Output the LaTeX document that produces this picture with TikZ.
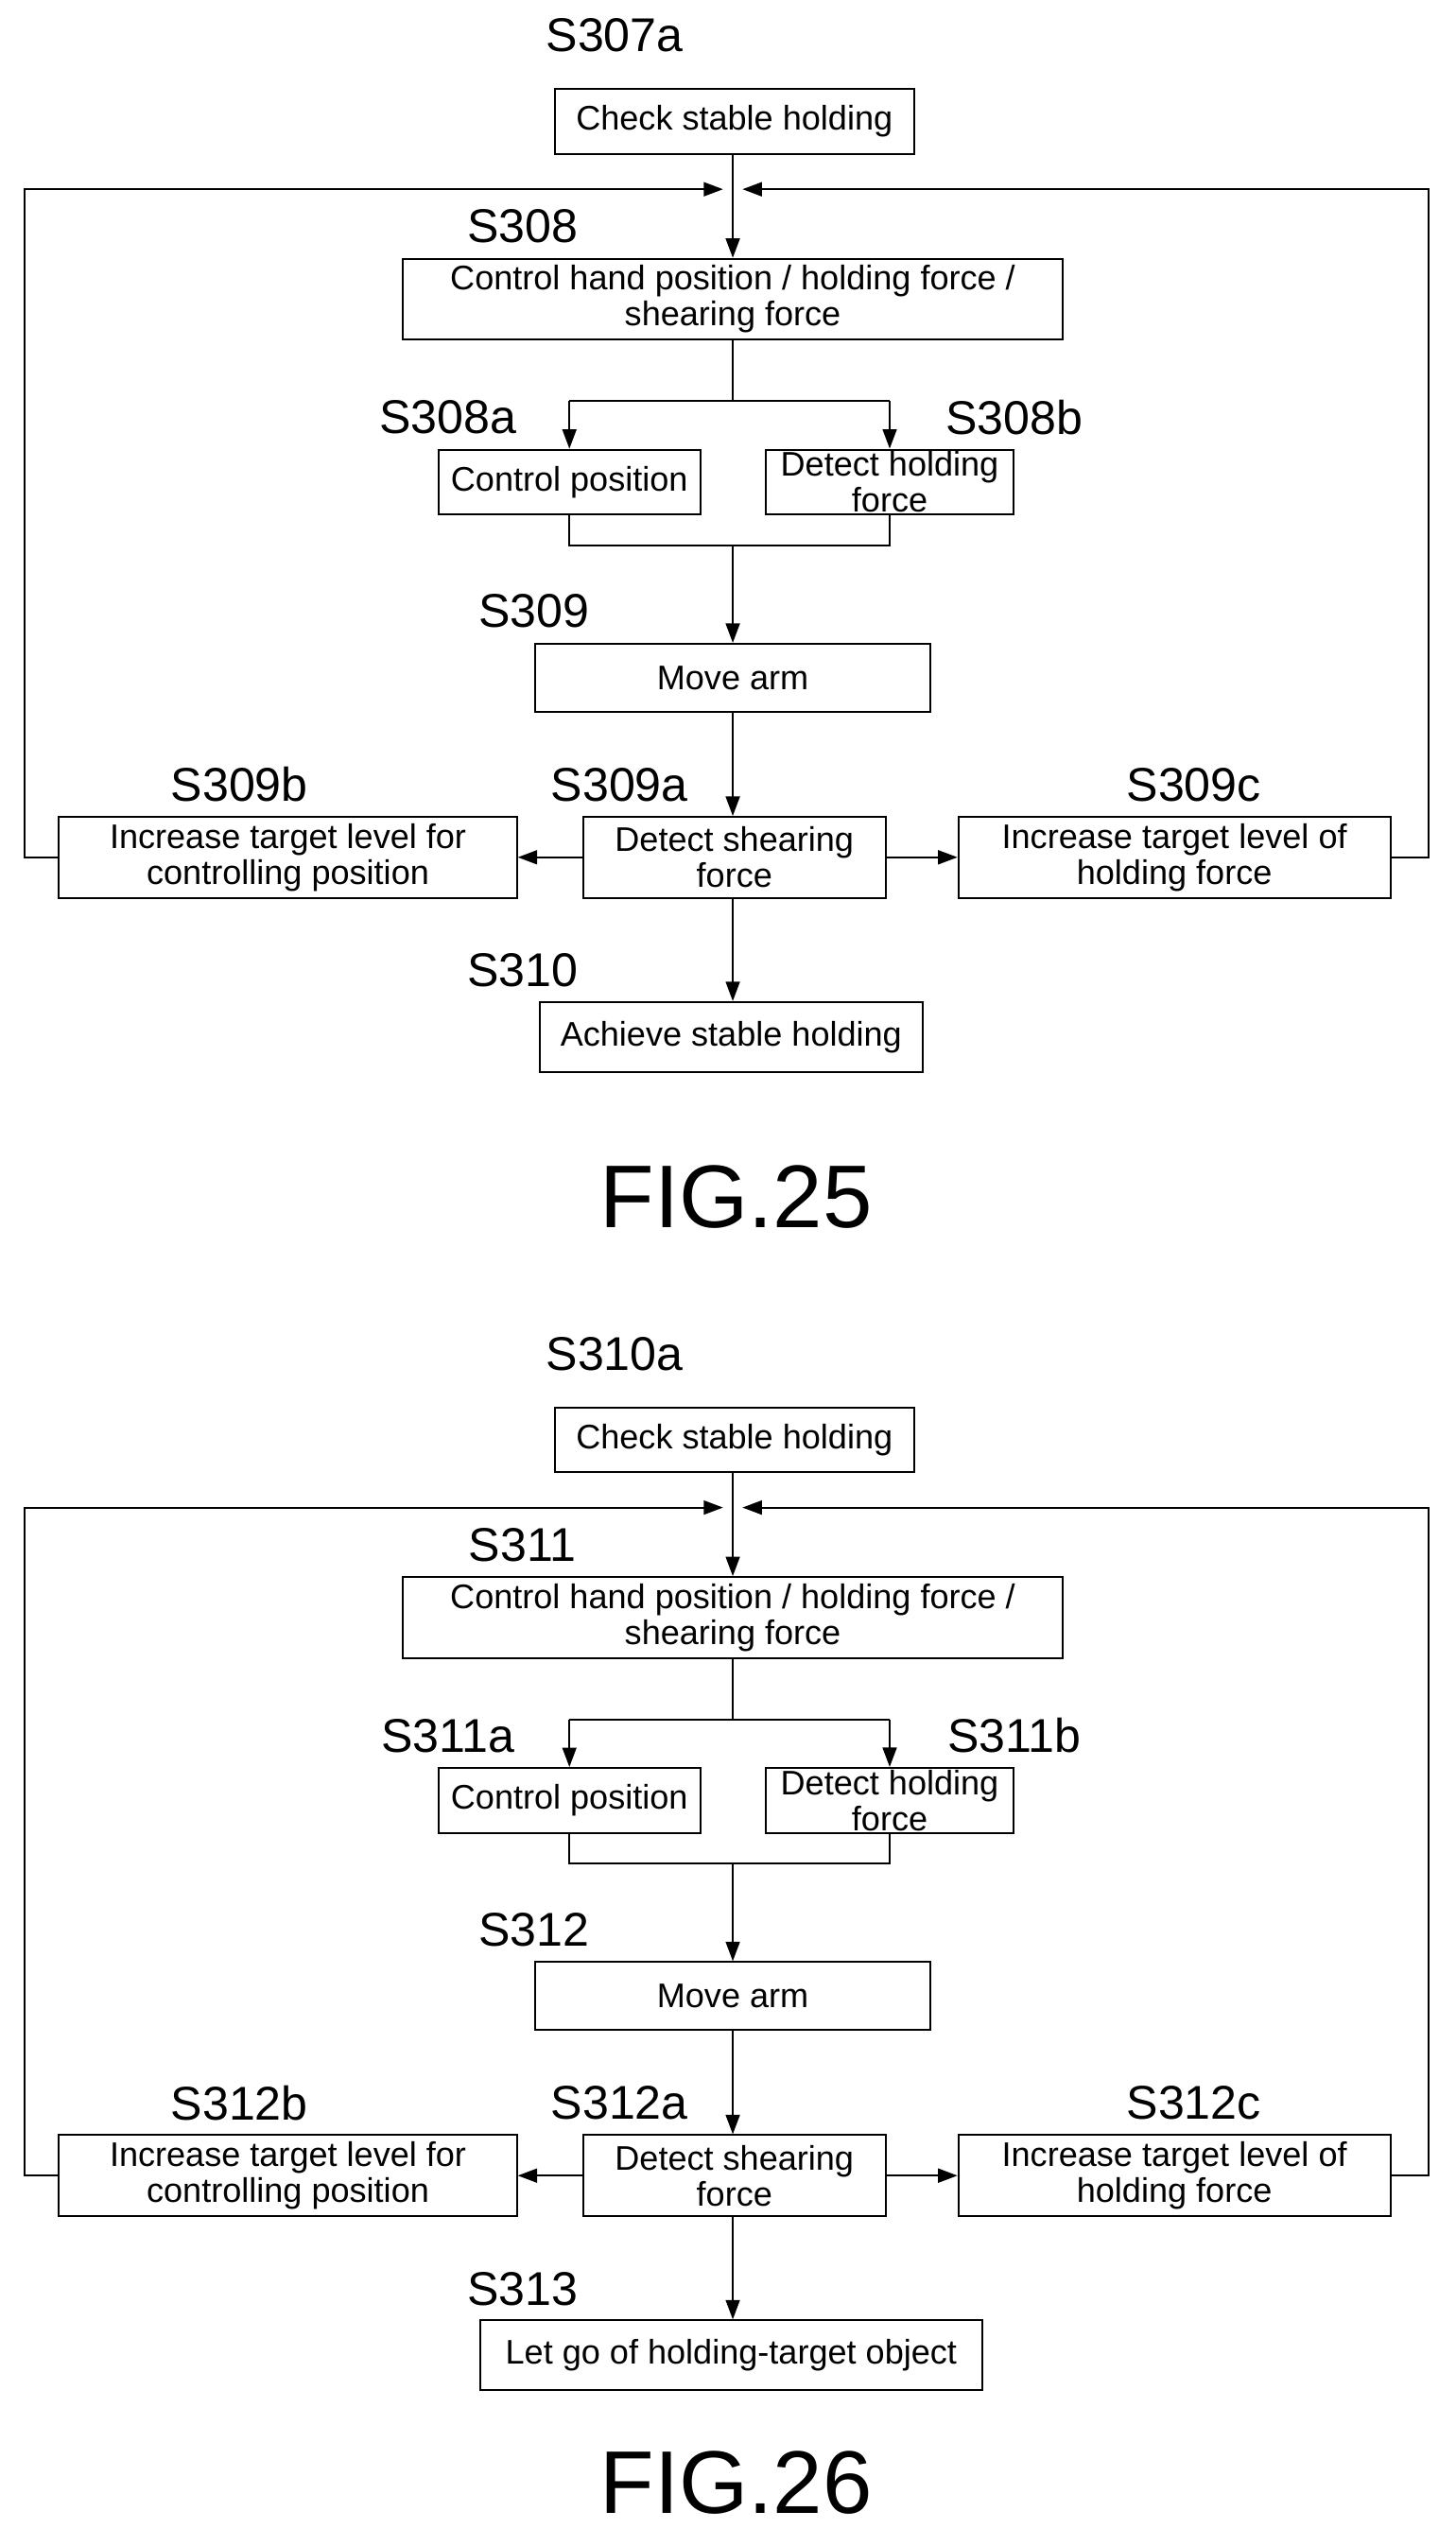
\documentclass[tikz,border=0pt]{standalone}
\usepackage{fontspec}
\setmainfont{Liberation Sans}
\usetikzlibrary{arrows.meta}

\tikzset{
  box/.style={draw, line width=1pt, inner sep=1pt, align=center,
    font=\fontsize{18}{19}\selectfont},
  tag/.style={font=\fontsize{25}{25}\selectfont},
  flow/.style={line width=1pt, -{Triangle[length=0.36cm,width=0.26cm]}},
  wire/.style={line width=1pt}
}

\begin{document}
\begin{tikzpicture}[x=0.03cm,y=-0.03cm]
  \useasboundingbox (0,0) rectangle (900,1574);

  \foreach \dy/\a/\b/\c/\d/\last/\wlast/\fig/\capy in
    {0/307/308/309/310/Achieve stable holding/237/25/740,
     815/310/311/312/313/Let go of holding-target object/310/26/720}{
  \begin{scope}[yshift=-\dy*0.03cm]
    % boxes
    \node[box, minimum width=6.66cm, minimum height=1.2cm] (chk) at (454,75) {Check stable holding};
    \node[box, minimum width=12.24cm, minimum height=1.5cm] (ctl) at (453,185) {Control hand position / holding force /\\ shearing force};
    \node[box, minimum width=4.86cm, minimum height=1.2cm] (pos) at (352,298) {Control position};
    \node[box, minimum width=4.59cm, minimum height=1.2cm] (det) at (550,298) {Detect holding\\ force};
    \node[box, minimum width=7.32cm, minimum height=1.26cm] (arm) at (453,419) {Move arm};
    \node[box, minimum width=5.61cm, minimum height=1.5cm] (shr) at (454,530) {Detect shearing\\ force};
    \node[box, minimum width=8.49cm, minimum height=1.5cm] (lft) at (178,530) {Increase target level for\\ controlling position};
    \node[box, minimum width=8.01cm, minimum height=1.5cm] (rgt) at (726,530) {Increase target level of\\ holding force};
    \node[box, minimum width=\wlast*0.03cm, minimum height=1.29cm] (fin) at (452,641) {\last};

    % step labels
    \node[tag] (lchk) at (380,22) {S\a a};
    \node[tag] (lctl) at (323,140) {S\b};
    \node[tag] (lpos) at (277,258) {S\b a};
    \node[tag] (ldet) at (627,258) {S\b b};
    \node[tag] (larm) at (330,378) {S\c};
    \node[tag] (lshr) at (383,485) {S\c a};
    \node[tag] (llft) at (148,485) {S\c b};
    \node[tag] (lrgt) at (738,485) {S\c c};
    \node[tag] (lfin) at (323,600) {S\d};
    \node[font=\fontsize{47}{47}\selectfont] (cap) at (455,\capy) {FIG.\fig};

    % connectors
    \coordinate (jl) at (447,117);
    \coordinate (jr) at (459,117);
    \coordinate (split) at (453,248);
    \coordinate (merge) at (453,337);
    \draw[flow] (chk.south -| ctl.north) -- (ctl.north);
    \draw[flow] (lft.west) -- (15,530) |- (jl);
    \draw[flow] (rgt.east) -- (883,530) |- (jr);
    \draw[wire] (ctl.south) -- (split);
    \draw[wire] (pos.north |- split) -- (det.north |- split);
    \draw[flow] (pos.north |- split) -- (pos.north);
    \draw[flow] (det.north |- split) -- (det.north);
    \draw[wire] (pos.south) -- (pos.south |- merge) -- (det.south |- merge) -- (det.south);
    \draw[flow] (merge) -- (arm.north -| merge);
    \draw[flow] (arm.south -| merge) -- (shr.north -| merge);
    \draw[flow] (shr.west) -- (lft.east);
    \draw[flow] (shr.east) -- (rgt.west);
    \draw[flow] (shr.south -| merge) -- (fin.north -| merge);
  \end{scope}
  }
\end{tikzpicture}
\end{document}
